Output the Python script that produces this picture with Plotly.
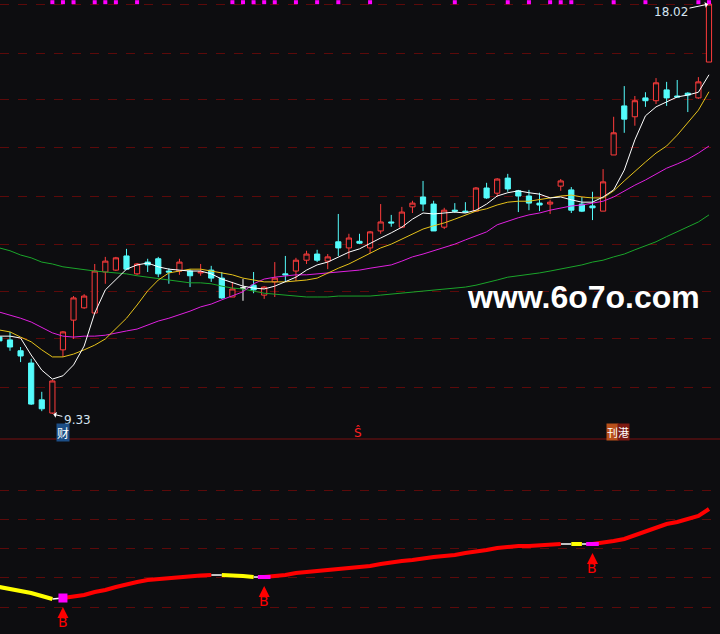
import plotly.graph_objects as go

# ---------------- data ----------------
days = list(range(-1, 67))

opens = [10.96, 10.90, 10.67, 10.41, 9.63, 9.35, 10.69, 11.32, 11.58, 11.47, 12.34, 12.38,
         12.68, 12.30, 12.55, 12.62, 12.36, 12.36, 12.36, 12.32, 12.38, 12.21, 11.81, 12.00,
         12.06, 11.85, 12.13, 12.30, 12.36, 12.59, 12.72, 12.57, 12.98, 12.85, 12.99, 12.85,
         13.21, 13.40, 13.29, 13.72, 13.93, 13.78, 13.29, 13.65, 13.63, 13.63, 14.12, 14.01,
         14.33, 14.06, 13.95, 13.80, 13.78, 14.16, 14.08, 13.78, 13.74, 13.63, 14.82, 15.86,
         15.63, 16.03, 15.97, 16.20, 16.07, 16.13, 16.03, 16.79]
highs = [11.00, 11.07, 10.75, 10.50, 9.80, 10.05, 11.09, 11.83, 11.87, 12.51, 12.66, 12.66,
         12.83, 12.53, 12.62, 12.66, 12.42, 12.62, 12.40, 12.51, 12.47, 12.34, 12.13, 12.19,
         12.34, 12.04, 12.55, 12.68, 12.64, 12.79, 12.81, 12.72, 13.57, 13.15, 13.15, 13.21,
         13.78, 13.55, 13.72, 13.85, 14.27, 13.85, 13.70, 13.80, 13.82, 14.14, 14.23, 14.33,
         14.42, 14.08, 14.08, 14.02, 13.87, 14.31, 14.14, 13.93, 14.04, 14.52, 15.63, 16.28,
         16.07, 16.15, 16.45, 16.37, 16.41, 16.15, 16.47, 18.02]
lows = [10.83, 10.67, 10.43, 9.52, 9.39, 9.33, 10.54, 10.92, 11.56, 11.47, 12.09, 12.36,
        12.38, 12.28, 12.34, 12.23, 12.09, 12.28, 12.02, 12.26, 12.13, 11.77, 11.81, 11.73,
        11.89, 11.77, 11.81, 12.15, 12.15, 12.51, 12.55, 12.40, 12.68, 12.62, 12.93, 12.74,
        13.15, 13.30, 13.27, 13.59, 13.63, 13.21, 13.25, 13.59, 13.59, 13.63, 13.89, 13.93,
        14.04, 13.61, 13.65, 13.63, 13.57, 14.06, 13.59, 13.61, 13.44, 13.63, 14.82, 15.29,
        15.44, 15.84, 15.90, 15.86, 16.05, 15.73, 16.01, 16.79]
closes = [10.88, 10.75, 10.56, 9.54, 9.44, 10.03, 11.07, 11.79, 11.83, 12.36, 12.57, 12.64,
          12.40, 12.51, 12.49, 12.30, 12.34, 12.55, 12.26, 12.34, 12.21, 11.79, 11.98, 12.00,
          11.96, 12.02, 12.21, 12.28, 12.59, 12.72, 12.59, 12.66, 12.85, 13.06, 12.95, 13.19,
          13.40, 13.38, 13.61, 13.80, 13.78, 13.21, 13.65, 13.63, 13.61, 14.12, 13.91, 14.31,
          14.10, 13.95, 13.80, 13.76, 13.82, 14.27, 13.65, 13.63, 13.70, 14.25, 15.29, 15.58,
          15.97, 15.97, 16.35, 16.03, 16.05, 16.09, 16.37, 18.02]

ma5 = [10.98, 10.98, 10.94, 10.58, 10.26, 10.07, 10.14, 10.37, 10.77, 11.47, 11.96, 12.19,
       12.40, 12.49, 12.53, 12.45, 12.40, 12.38, 12.36, 12.36, 12.30, 12.19, 12.11, 12.04,
       12.00, 11.98, 12.04, 12.13, 12.23, 12.38, 12.49, 12.55, 12.66, 12.76, 12.83, 12.95,
       13.06, 13.17, 13.29, 13.46, 13.59, 13.57, 13.59, 13.61, 13.59, 13.65, 13.78, 13.95,
       14.02, 14.06, 14.02, 13.99, 13.91, 13.93, 13.87, 13.82, 13.82, 13.93, 14.08, 14.50,
       15.14, 15.65, 15.84, 15.94, 16.05, 16.09, 16.15, 16.52]
ma10 = [11.11, 11.07, 10.96, 10.86, 10.69, 10.54, 10.54, 10.60, 10.69, 10.79, 10.92, 11.13,
        11.36, 11.64, 11.94, 12.17, 12.32, 12.36, 12.40, 12.40, 12.36, 12.32, 12.28, 12.21,
        12.17, 12.13, 12.13, 12.13, 12.15, 12.17, 12.21, 12.32, 12.42, 12.51, 12.62, 12.74,
        12.85, 12.93, 13.04, 13.15, 13.25, 13.32, 13.38, 13.46, 13.55, 13.63, 13.68, 13.76,
        13.82, 13.84, 13.84, 13.87, 13.91, 13.95, 13.97, 13.93, 13.91, 13.91, 14.06, 14.27,
        14.48, 14.67, 14.86, 15.01, 15.24, 15.50, 15.77, 16.16]
ma20 = [11.49, 11.43, 11.36, 11.28, 11.17, 11.05, 10.98, 10.96, 10.98, 10.98, 11.00, 11.05,
        11.09, 11.13, 11.22, 11.30, 11.36, 11.43, 11.51, 11.60, 11.66, 11.75, 11.83, 11.92,
        12.09, 12.19, 12.23, 12.26, 12.28, 12.28, 12.30, 12.32, 12.34, 12.36, 12.38, 12.42,
        12.45, 12.49, 12.57, 12.66, 12.72, 12.79, 12.85, 12.93, 13.02, 13.10, 13.19, 13.34,
        13.42, 13.49, 13.55, 13.59, 13.65, 13.70, 13.74, 13.76, 13.80, 13.84, 13.93, 14.06,
        14.18, 14.29, 14.42, 14.54, 14.63, 14.73, 14.86, 15.01]
ma60 = [12.85, 12.79, 12.70, 12.64, 12.55, 12.51, 12.45, 12.42, 12.38, 12.36, 12.34, 12.32,
        12.30, 12.26, 12.23, 12.21, 12.17, 12.15, 12.11, 12.11, 12.09, 12.04, 12.00, 11.98,
        11.94, 11.89, 11.87, 11.85, 11.83, 11.81, 11.81, 11.81, 11.83, 11.83, 11.83, 11.83,
        11.85, 11.87, 11.89, 11.92, 11.94, 11.96, 11.98, 12.00, 12.02, 12.06, 12.11, 12.17,
        12.23, 12.26, 12.28, 12.32, 12.36, 12.40, 12.45, 12.49, 12.55, 12.59, 12.66, 12.72,
        12.81, 12.89, 12.98, 13.09, 13.19, 13.29, 13.40, 13.55]

# lower-panel indicator line and its state per day (Y=yellow, W=white, R=red)
trend = [16.84, 16.16, 15.81, 14.79, 13.76, 12.74, 13.08, 13.42, 14.10, 15.13, 15.81, 16.84,
         17.87, 18.55, 19.23, 19.58, 19.92, 20.26, 20.60, 20.77, 20.94, 20.94, 20.94, 20.60,
         20.26, 20.26, 20.60, 20.94, 21.63, 21.97, 22.31, 22.65, 23.00, 23.34, 23.68, 24.02,
         24.71, 25.05, 25.73, 26.07, 26.76, 27.10, 27.44, 27.78, 28.47, 28.81, 29.49, 30.18,
         30.52, 30.86, 30.86, 31.20, 31.20, 31.55, 31.55, 31.55, 31.55, 31.89, 32.57, 33.26,
         34.62, 35.65, 37.02, 38.39, 39.07, 40.10, 41.12, 43.52]
trend_state = (["Y"] * 6 + ["W"] + ["R"] * 14 + ["W"] + ["Y"] * 3 + ["W"] + ["R"] * 28
               + ["W", "Y", "W"] + ["R"] * 11)
buy_days = [5, 24, 55]
top_signal_days = [4, 5, 6, 8, 9, 10, 12, 21, 22, 23, 24, 25, 27, 29, 31, 34, 42, 47, 49,
                   51, 52, 53, 57, 60, 65, 66]
sell_days = [33]

price_grid = [9.90, 10.92, 11.92, 12.93, 13.95, 14.97, 15.99, 16.98, 18.00]
trend_grid = [10, 20, 30, 40, 50]
high_label, low_label = "18.02", "9.33"
high_day, low_day = 66, 4

# ---------------- styles ----------------
BG = "#0d0d10"
RED = "#ff3c3c"
CYAN = "#54fcfc"
GRID = "#5c0a0a"
SPLIT = 1 - 439 / 634
LABEL_Y = 1 - 432 / 634

fig = go.Figure()

norm = [i for i in range(len(days)) if opens[i] != closes[i]]
doji = [i for i in range(len(days)) if opens[i] == closes[i]]

fig.add_trace(go.Candlestick(
    x=[days[i] for i in norm], open=[opens[i] for i in norm], high=[highs[i] for i in norm],
    low=[lows[i] for i in norm], close=[closes[i] for i in norm],
    increasing=dict(line=dict(color=RED, width=1), fillcolor=BG),
    decreasing=dict(line=dict(color=CYAN, width=1), fillcolor=CYAN),
    whiskerwidth=0, xaxis="x", yaxis="y", hoverinfo="skip", showlegend=False))
fig.add_trace(go.Candlestick(
    x=[days[i] for i in doji], open=[opens[i] for i in doji], high=[highs[i] for i in doji],
    low=[lows[i] for i in doji], close=[closes[i] for i in doji],
    increasing=dict(line=dict(color="#ffffff", width=1), fillcolor="#ffffff"),
    decreasing=dict(line=dict(color="#ffffff", width=1), fillcolor="#ffffff"),
    whiskerwidth=0, xaxis="x", yaxis="y", hoverinfo="skip", showlegend=False))

for vals, col in [(ma60, "#1aa52a"), (ma20, "#e020e0"), (ma10, "#e6c21a"), (ma5, "#ffffff")]:
    fig.add_trace(go.Scatter(x=days, y=vals, mode="lines", line=dict(color=col, width=1),
                             xaxis="x", yaxis="y", hoverinfo="skip", showlegend=False))

# top signal dots (overlay axis, 0..1)
fig.add_trace(go.Scatter(x=top_signal_days, y=[0.995] * len(top_signal_days), mode="markers",
                         marker=dict(symbol="square", size=4, color="#ff00ff"),
                         xaxis="x", yaxis="y3", hoverinfo="skip", showlegend=False))

# lower panel colored line
seg_col = {"Y": "#ffff00", "W": "#ffffff", "R": "#ff0000"}
seg_w = {"Y": 4, "W": 1.5, "R": 4}
for key in ["W", "Y", "R"]:
    xs, ys = [], []
    prev = False
    for k in range(1, len(days)):
        if trend_state[k] == key:
            if not prev:
                xs += [None, days[k - 1]]
                ys += [None, trend[k - 1]]
            xs.append(days[k])
            ys.append(trend[k])
            prev = True
        else:
            prev = False
    fig.add_trace(go.Scatter(x=xs, y=ys, mode="lines", connectgaps=False,
                             line=dict(color=seg_col[key], width=seg_w[key]),
                             xaxis="x", yaxis="y2", hoverinfo="skip", showlegend=False))

bi = [days.index(d) for d in buy_days]
fig.add_trace(go.Scatter(x=[buy_days[0]], y=[trend[bi[0]]], mode="markers",
                         marker=dict(symbol="square", size=9, color="#ff00ff"),
                         xaxis="x", yaxis="y2", hoverinfo="skip", showlegend=False))
fig.add_trace(go.Scatter(x=buy_days[1:], y=[trend[i] for i in bi[1:]], mode="markers",
                         marker=dict(symbol="line-ew", size=9, color="#ff00ff",
                                     line=dict(color="#ff00ff", width=4)),
                         xaxis="x", yaxis="y2", hoverinfo="skip", showlegend=False))

ann = []
for d, i in zip(buy_days, bi):
    ann.append(dict(x=d, y=trend[i], xref="x", yref="y2", text="B", showarrow=True,
                    ax=0, ay=24, standoff=9, arrowhead=2, arrowsize=1.1, arrowwidth=2,
                    arrowcolor="#ff0000", font=dict(color="#ff0000", size=14,
                                                    family="DejaVu Sans")))

ann.append(dict(x=high_day, y=highs[days.index(high_day)], xref="x", yref="y", text=high_label,
                showarrow=True, ax=-38, ay=8, arrowhead=1, arrowsize=1, arrowwidth=1,
                arrowcolor="#ffffff", standoff=1,
                font=dict(color="#d6e4f2", size=12, family="DejaVu Sans")))
ann.append(dict(x=low_day, y=lows[days.index(low_day)], xref="x", yref="y", text=low_label,
                showarrow=True, ax=25, ay=6, arrowhead=1, arrowsize=1, arrowwidth=1,
                arrowcolor="#ffffff", standoff=1,
                font=dict(color="#d6e4f2", size=12, family="DejaVu Sans")))

ann.append(dict(x=5, y=LABEL_Y, xref="x", yref="paper", text="财", showarrow=False,
                yanchor="middle", bgcolor="#1c4e86", borderpad=0,
                font=dict(color="#ffffff", size=12, family="Noto Sans CJK SC")))
for d in sell_days:
    ann.append(dict(x=d - 0.1, y=LABEL_Y, xref="x", yref="paper", text="Ŝ", showarrow=False,
                    yanchor="middle",
                    font=dict(color="#ff2020", size=12, family="DejaVu Sans")))
ann.append(dict(x=56.85, y=LABEL_Y, xref="x", yref="paper", text="刊", showarrow=False,
                yanchor="middle", bgcolor="#b8501a", borderpad=0,
                font=dict(color="#ffffff", size=11, family="Noto Sans CJK SC")))
ann.append(dict(x=57.95, y=LABEL_Y, xref="x", yref="paper", text="港", showarrow=False,
                yanchor="middle", bgcolor="#7c1a12", borderpad=0,
                font=dict(color="#ffffff", size=11, family="Noto Sans CJK SC")))

ann.append(dict(x=583 / 720, y=1 - 297 / 634, xref="paper", yref="paper",
                xanchor="center", yanchor="middle", text="<b>www.6o7o.com</b>",
                showarrow=False,
                font=dict(color="#ffffff", size=32, family="Liberation Sans, Arial")))

fig.update_layout(
    width=720, height=634, margin=dict(l=0, r=0, t=0, b=0),
    paper_bgcolor=BG, plot_bgcolor=BG, showlegend=False,
    xaxis=dict(range=[-0.944, 67.04], showgrid=False, zeroline=False, showticklabels=False,
               ticks="", rangeslider=dict(visible=False), anchor="y", fixedrange=True),
    yaxis=dict(domain=[SPLIT, 1], range=[8.80, 18.105], tickvals=price_grid,
               showticklabels=False, ticks="", showgrid=True, gridcolor=GRID, griddash="dash",
               gridwidth=1, zeroline=False),
    yaxis2=dict(domain=[0, SPLIT], range=[0.77, 67.46], tickvals=trend_grid,
                showticklabels=False, ticks="", showgrid=True, gridcolor=GRID, griddash="dash",
                gridwidth=1, zeroline=False, anchor="x"),
    yaxis3=dict(domain=[SPLIT, 1], range=[0, 1.0], overlaying="y", visible=False,
                anchor="x"),
    annotations=ann,
    shapes=[dict(type="line", xref="paper", yref="paper", x0=0, x1=1, y0=SPLIT, y1=SPLIT,
                 line=dict(color="#7a1010", width=1))],
)

fig.write_html("out.html", config={"displayModeBar": False},
               post_script="document.body.style.margin='0';"
               "document.body.style.background='#0d0d10';")
